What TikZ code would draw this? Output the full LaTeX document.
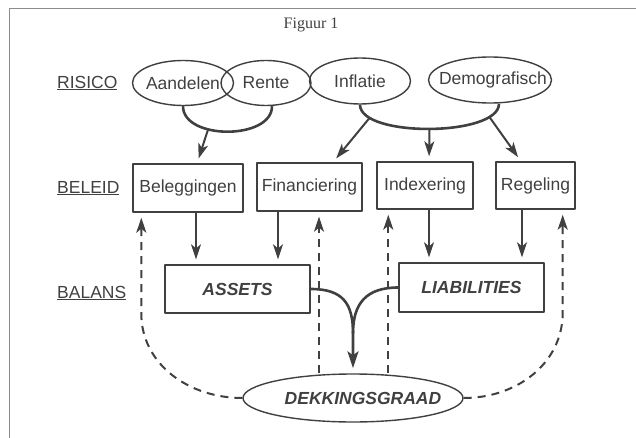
\documentclass[tikz,border=0pt]{standalone}
\usepackage{fontspec}
\setmainfont{Liberation Sans}
\newfontfamily\figfont{Liberation Serif}
\usepackage{tikz}
\usetikzlibrary{shapes.geometric, arrows.meta, positioning}
\usepackage{xcolor}
\definecolor{ink}{gray}{0.25}

\begin{document}
\begin{tikzpicture}[x=1pt, y=-1pt, line join=round,
		every node/.style={text=ink, font=\fontsize{17.5}{20}\selectfont},
		risk/.style={draw=ink, ellipse, line width=1.4pt, inner sep=0pt, minimum height=45pt},
		pol/.style={draw=ink, rectangle, line width=1.4pt, inner sep=0pt, minimum height=48pt},
		bal/.style={pol, minimum width=145pt, font=\fontsize{17.5}{20}\selectfont\bfseries\itshape},
		lbl/.style={anchor=west, inner sep=0pt},
		arr/.style={draw=ink, line width=2pt, shorten >=5pt, -{Stealth[length=15pt,width=10pt,inset=4pt]}},
		dasharr/.style={arr, dash pattern=on 8pt off 6pt},
		curveline/.style={draw=ink, line width=2.6pt}]
		\useasboundingbox (0,0) rectangle (636,438);
		\draw[ink!60, line width=0.8pt] (9,438) -- (9,8) -- (636,8);
		
		\draw (311,25) node[font=\figfont\fontsize{16}{18}\selectfont] (fig) {Figuur 1}
		(57,83) node[lbl] (risico) {\underline{RISICO}}
		(57,188) node[lbl] (beleid) {\underline{BELEID}}
		(57,293) node[lbl] (balans) {\underline{BALANS}}
		(183,83) node[risk, minimum width=101pt] (aand) {\makebox[0pt]{Aandelen}}
		(266,83) node[risk, minimum width=90pt] (rente) {\makebox[0pt]{Rente}}
		(360,81) node[risk, minimum width=101pt, minimum height=46pt] (infl) {\makebox[0pt]{Inflatie}}
		(490,80) node[risk, minimum width=123pt, minimum height=46pt] (demo) {\makebox[0pt]{\hspace*{6pt}Demografisch}}
		(188,188) node[pol, minimum width=110pt] (bel) {Beleggingen}
		(309.5,187) node[pol, minimum width=105pt] (fin) {Financiering}
		(425,185.5) node[pol, minimum width=96pt, minimum height=47pt] (ind) {Indexering}
		(535.5,185.5) node[pol, minimum width=79pt, minimum height=47pt] (reg) {Regeling}
		(237.5,289) node[bal] (ast) {ASSETS}
		(471.5,287.5) node[bal, minimum height=49pt] (lia) {LIABILITIES}
		(353,398) node[risk, minimum width=220pt, minimum height=48pt, font=\fontsize{17.5}{20}\selectfont\bfseries\itshape] (dek) {\makebox[0pt]{\hspace*{20pt}DEKKINGSGRAAD}};
		
		\draw[curveline] (aand.south) .. controls +(0,34) and +(0,34) .. ([xshift=6pt]rente.south) coordinate[pos=0.35] (lc);
		\draw[curveline] (infl.south) .. controls +(0,33) and +(0,33) .. ([xshift=9pt]demo.south)
		coordinate[pos=0.16] (rc1) coordinate[pos=0.5] (rc2) coordinate[pos=0.84] (rc3);
		
		\draw[arr] (lc) -- ([xshift=9pt]bel.north);
		\draw[arr] (rc1) -- ([xshift=23.5pt]fin.north);
		\draw[arr] (rc2) -- ([xshift=4pt]ind.north);
		\draw[arr] (rc3) -- ([xshift=-14.5pt]reg.north);
		
		\coordinate (b1) at ([xshift=8pt]bel.south);
		\coordinate (b2) at ([xshift=-31.5pt]fin.south);
		\coordinate (b3) at ([xshift=4pt]ind.south);
		\coordinate (b4) at ([xshift=-13.5pt]reg.south);
		\draw[arr] (b1) -- (b1 |- ast.north);
		\draw[arr] (b2) -- (b2 |- ast.north);
		\draw[arr] (b3) -- (b3 |- lia.north);
		\draw[arr] (b4) -- (b4 |- lia.north);
		
		\coordinate (jn) at ([yshift=40pt]dek.north);
		\draw[curveline] (ast.east) .. controls +(32,0) and +(0,-30) .. (jn);
		\draw[curveline, shorten >=5pt, -{Stealth[length=17pt,width=11pt,inset=4pt]}] (lia.west) .. controls +(-32,0) and +(0,-30) .. (jn) -- (dek.north);
		
		\coordinate (dl) at ([xshift=9pt]bel.south west);
		\coordinate (dm1) at ([xshift=9.5pt]fin.south);
		\coordinate (dm2) at ([xshift=12pt]ind.south west);
		\coordinate (dr) at ([xshift=-13pt]reg.south east);
		\draw[dasharr] (dek.west) .. controls +(-54,0) and +(0,50) .. (dl |- ast.south) -- (dl);
		\draw[dasharr] (dm1 |- dek.north) -- (dm1);
		\draw[dasharr] (dm2 |- dek.north) -- (dm2);
		\draw[dasharr] (dek.east) .. controls +(54,0) and +(0,50) .. (dr |- lia.south) -- (dr);
	\end{tikzpicture}
\end{document}
